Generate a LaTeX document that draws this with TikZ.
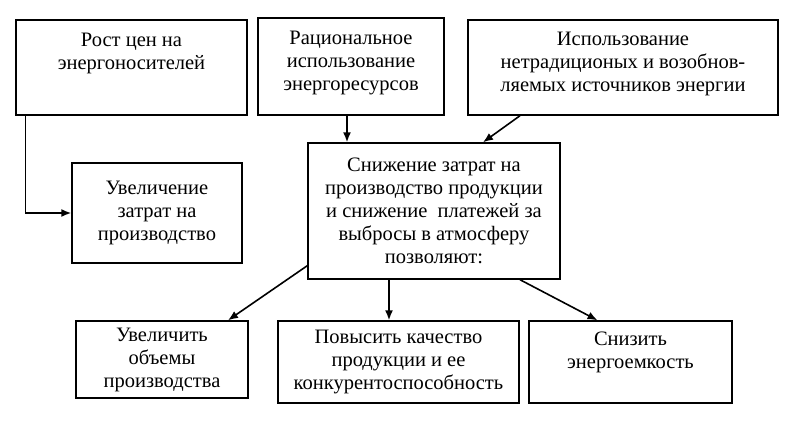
\documentclass[tikz,border=0pt]{standalone}
\usepackage{fontspec}
\setmainfont{Liberation Serif}
\usetikzlibrary{arrows.meta}
\begin{document}
\begin{tikzpicture}[x=1pt,y=-1pt,
    box/.style={draw,line width=1.4pt,inner sep=1pt,align=center,font=\fontsize{20.5}{23}\selectfont},
    arr/.style={line width=1.6pt,-{Latex[length=10pt,width=8pt]}}]
    \useasboundingbox (0,0) rectangle (807,426);
    \node[box,minimum width=231,minimum height=95] (rost) at (131.5,67.5) {Рост цен на\\энергоносителей\\[10pt]\mbox{}};
    \node[box,minimum width=186,minimum height=97] (ration) at (351,66.5) {Рациональное\\использование\\энергоресурсов\\[-12pt]\mbox{}};
    \node[box,minimum width=310,minimum height=95] (ispolz) at (623,67.5) {Использование\\нетрадиционых и возобнов-\\ляемых источников энергии\\[-12pt]\mbox{}};
    \node[box,minimum width=170,minimum height=100] (uvelich) at (157,213) {Увеличение\\затрат на\\производство};
    \node[box,minimum width=252,minimum height=136] (snizh) at (434,211) {Снижение затрат на\\производство продукции\\и снижение \ платежей за\\выбросы в атмосферу\\позволяют:};
    \node[box,minimum width=172,minimum height=77] (obem) at (162,359.5) {Увеличить\\объемы\\производства};
    \node[box,minimum width=241,minimum height=82] (kachestvo) at (398.5,362) {Повысить качество\\продукции и ее\\конкурентоспособность};
    \node[box,minimum width=203,minimum height=82] (emkost) at (630.5,362) {Снизить\\энергоемкость\\ \mbox{}};
    \draw[arr] ([xshift=10]rost.south west) |- (uvelich.west);
    \draw[arr] ([xshift=-4]ration.south) -- ([xshift=-4]ration.south |- snizh.north);
    \draw[arr] ([xshift=-103]ispolz.south) -- ([xshift=49]snizh.north);
    \draw[arr] ([yshift=14]snizh.south west) -- ([xshift=66]obem.north);
    \draw[arr] ([xshift=-45]snizh.south) -- ([xshift=-45]snizh.south |- kachestvo.north);
    \draw[arr] ([xshift=86]snizh.south) -- ([xshift=-33]emkost.north);
\end{tikzpicture}
\end{document}
